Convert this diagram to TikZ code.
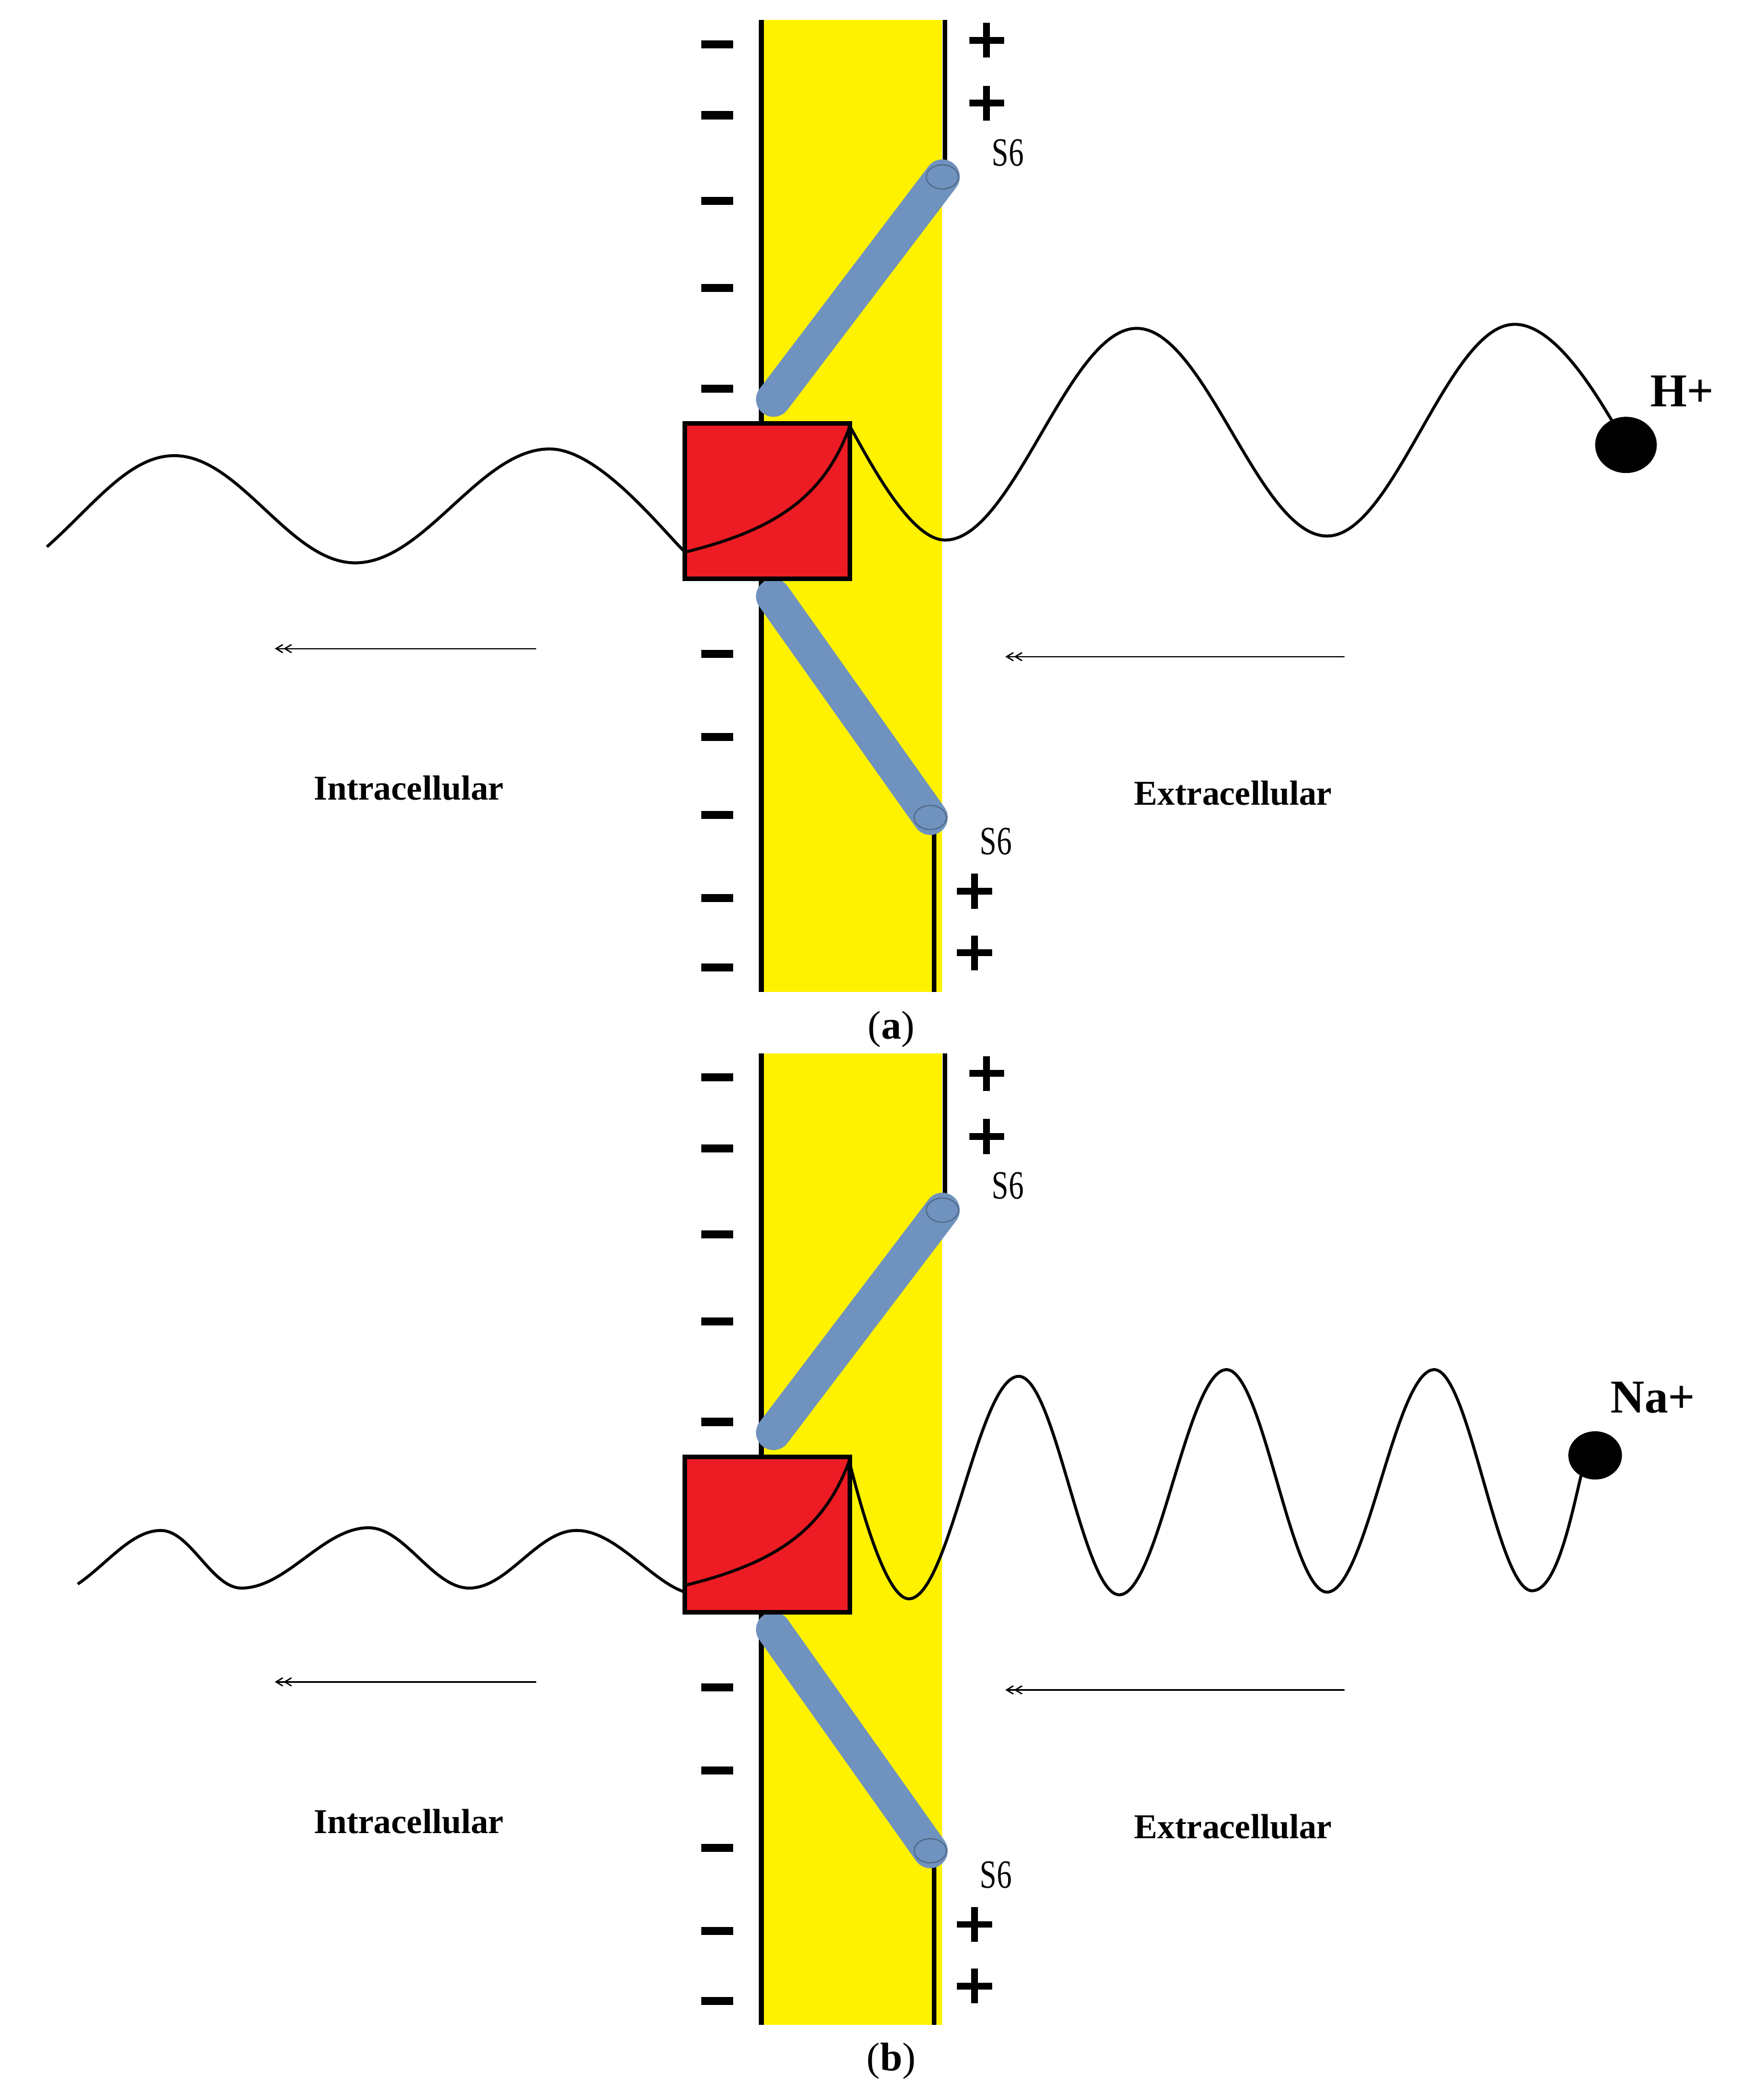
\documentclass[tikz,border=0pt]{standalone}
\usepackage{fontspec}
\setmainfont{Liberation Serif}
\usetikzlibrary{arrows.meta}
\definecolor{memb}{RGB}{255,242,0}
\definecolor{chan}{RGB}{237,28,36}
\definecolor{helix}{RGB}{112,146,190}
\tikzset{
 minus/.style={line width=0.06cm},
 plus/.style={line width=0.05cm},
 wave/.style={line width=0.022cm},
 helixline/.style={helix,line width=0.26cm,line cap=round},
 flow/.style={line width=0.01cm,-{Straight Barb[length=0.05cm,width=0.06cm] Straight Barb[length=0.05cm,width=0.06cm]}},
 lab/.style={font=\fontsize{7.4}{8}\selectfont\bfseries},
 sixlab/.style={font=\fontsize{8.5}{9}\selectfont,xscale=0.75},
 ion/.style={font=\fontsize{10}{11}\selectfont\bfseries},
}
\newcommand{\panel}{%
 \fill[memb] (568,15) rectangle (703,740);
 \draw[line width=0.035cm] (568,15) -- (568,740);
 \draw[line width=0.035cm] (705,15) -- (705,128);
 \draw[line width=0.035cm] (697,615) -- (697,740);
 \foreach \yy in {33,86,150,215,290,488,550,608,670,722}
   \draw[minus] (523,\yy) -- (547,\yy);
 \foreach \yy in {30,77} { \draw[plus] (723,\yy) -- (749,\yy); \draw[plus] (736,\yy-13) -- (736,\yy+13); }
 \foreach \yy in {665,711} { \draw[plus] (714,\yy) -- (740,\yy); \draw[plus] (727,\yy-13) -- (727,\yy+13); }
 \draw[helixline] (577,298) -- (703,132);
 \draw[helix!70!black,line width=0.008cm] (703,132) ellipse [x radius=12,y radius=9];
 \draw[helixline] (577,445) -- (694,610);
 \draw[helix!70!black,line width=0.008cm] (694,610) ellipse [x radius=12,y radius=9];
 \node[sixlab] (s6a) at (752,114) {S6};
 \node[sixlab] (s6b) at (743,628) {S6};
 \draw[line width=0.035cm,fill=chan] (511,316) rectangle (634,432);
 \draw[wave] (511,412) .. controls (580,395) and (615,370) .. (634,318);
 \coordinate (la1) at (400,484); \coordinate (la2) at (205,484);
 \coordinate (ra1) at (1003,490); \coordinate (ra2) at (750,490);
 \draw[flow] (la1) -- (la2);
 \draw[flow] (ra1) -- (ra2);
 \node[lab] (intra) at (305,588) {Intracellular};
 \node[lab] (extra) at (920,592) {Extracellular};
}
\begin{document}
\begin{tikzpicture}[x=0.01cm,y=-0.01cm]
\useasboundingbox[fill=white] (0,0) rectangle (1300,1567);
% panel a
\begin{scope}
 \panel
 \draw[wave] (35,408) .. controls +(34,-30) and +(-34,0) .. (130,340)
   .. controls +(49,0) and +(-49,0) .. (265,420)
   .. controls +(52,0) and +(-52,0) .. (410,335)
   .. controls +(36,0) and +(-20,-20) .. (511,412);
 \draw[wave] (634,318) .. controls +(14,25) and +(-26,0) .. (705,403)
   .. controls +(51,0) and +(-51,0) .. (848,245)
   .. controls +(51,0) and +(-51,0) .. (990,400)
   .. controls +(50,0) and +(-50,0) .. (1130,242)
   .. controls +(30,0) and +(-15,-25) .. (1205,318);
 \fill (1213,332) ellipse [x radius=23,y radius=21];
 \node[ion] (hion) at (1255,292) {H+};
 \node[font=\fontsize{8.5}{9}\selectfont] (capa) at (665,768) {(\textbf{a})};
\end{scope}
% panel b
\begin{scope}[shift={(0,771)}]
 \panel
 \draw[wave] (58,411) .. controls +(22,-15) and +(-22,0) .. (120,371)
   .. controls +(22,0) and +(-22,0) .. (180,414)
   .. controls +(34,0) and +(-34,0) .. (275,369)
   .. controls +(27,0) and +(-27,0) .. (350,414)
   .. controls +(29,0) and +(-29,0) .. (430,371)
   .. controls +(29,0) and +(-25,-8) .. (511,417);
 \draw[wave] (634,321) .. controls +(10,40) and +(-16,0) .. (678,422)
   .. controls +(30,0) and +(-30,0) .. (760,256)
   .. controls +(27,0) and +(-27,0) .. (835,419)
   .. controls +(29,0) and +(-29,0) .. (915,251)
   .. controls +(27,0) and +(-27,0) .. (990,417)
   .. controls +(29,0) and +(-29,0) .. (1070,251)
   .. controls +(26,0) and +(-26,0) .. (1143,416)
   .. controls +(20,0) and +(-8,30) .. (1182,320);
 \fill (1190,315) ellipse [x radius=20,y radius=18];
 \node[ion] (naion) at (1233,272) {Na+};
 \node[font=\fontsize{8.5}{9}\selectfont] (capb) at (665,767) {(\textbf{b})};
\end{scope}
\end{tikzpicture}
\end{document}
